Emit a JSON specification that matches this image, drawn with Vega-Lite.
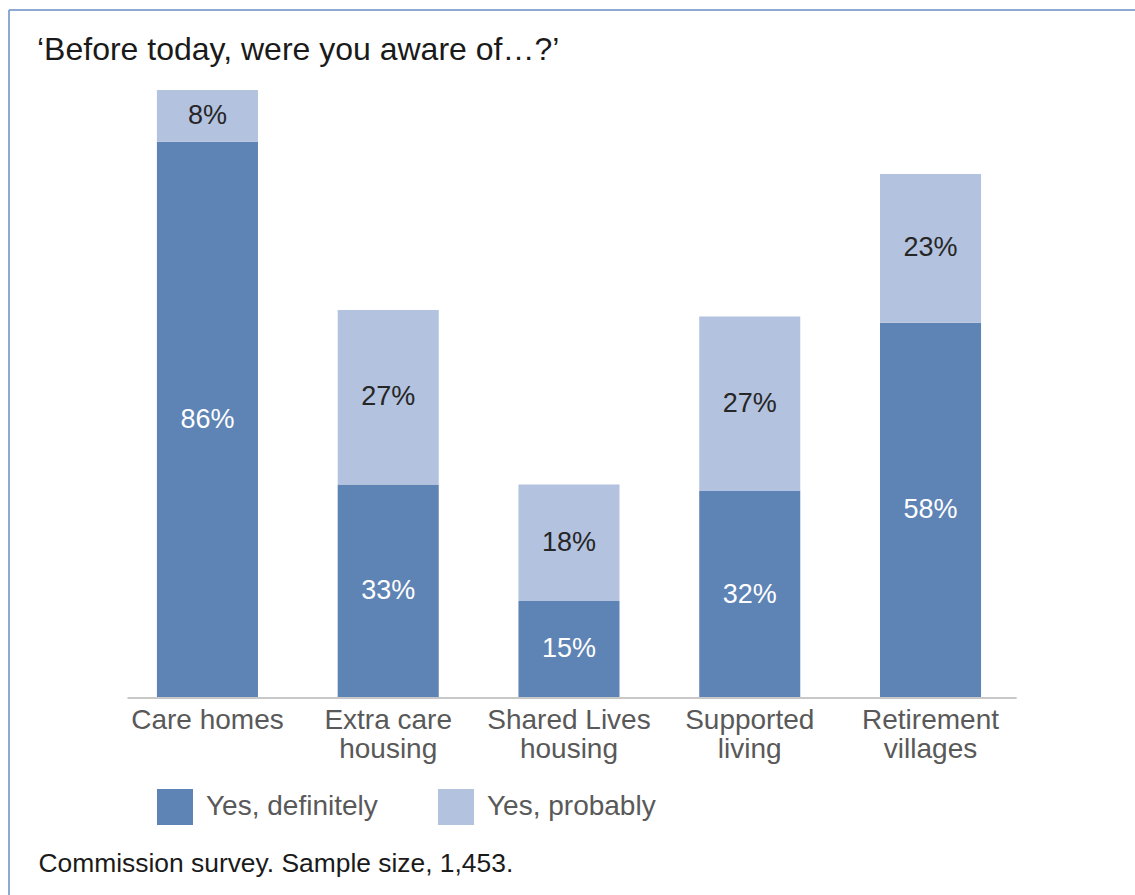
{
  "$schema": "https://vega.github.io/schema/vega-lite/v6.json",
  "width": 1126,
  "height": 885,
  "autosize": {"type": "none"},
  "padding": {"left": 9, "top": 10, "right": 0, "bottom": 0},
  "background": "white",
  "config": {
    "font": "Liberation Sans",
    "view": {"stroke": "#6a8ec6", "strokeWidth": 1.5, "strokeDash": [1126, 2011, 885, 0]},
    "axis": {"grid": false}
  },
  "title": {
    "text": "‘Before today, were you aware of…?’",
    "anchor": "start",
    "frame": "group",
    "dx": 28,
    "offset": -57,
    "fontSize": 32,
    "fontWeight": "normal",
    "color": "#1a1a1a",
    "font": "Liberation Sans"
  },
  "data": {
    "values": [
      {"category": "Care homes", "response": "Yes, definitely", "value": 0.86},
      {"category": "Care homes", "response": "Yes, probably", "value": 0.08},
      {"category": "Extra care housing", "response": "Yes, definitely", "value": 0.33},
      {"category": "Extra care housing", "response": "Yes, probably", "value": 0.27},
      {"category": "Shared Lives housing", "response": "Yes, definitely", "value": 0.15},
      {"category": "Shared Lives housing", "response": "Yes, probably", "value": 0.18},
      {"category": "Supported living", "response": "Yes, definitely", "value": 0.32},
      {"category": "Supported living", "response": "Yes, probably", "value": 0.27},
      {"category": "Retirement villages", "response": "Yes, definitely", "value": 0.58},
      {"category": "Retirement villages", "response": "Yes, probably", "value": 0.23}
    ]
  },
  "layer": [
    {
      "mark": {"type": "bar"},
      "encoding": {
        "x": {
          "field": "category",
          "type": "nominal",
          "sort": null,
          "scale": {"paddingInner": 0.441, "paddingOuter": 0.835, "align": 0.49},
          "axis": {
            "orient": "bottom",
            "offset": -197,
            "domain": false,
            "ticks": false,
            "labelAngle": 0,
            "labelFontSize": 28,
            "labelColor": "#595959",
            "labelPadding": 8,
            "labelLineHeight": 29,
            "labelLimit": 400,
            "labelExpr": "datum.label == 'Extra care housing' ? ['Extra care', 'housing'] : datum.label == 'Shared Lives housing' ? ['Shared Lives', 'housing'] : datum.label == 'Supported living' ? ['Supported', 'living'] : datum.label == 'Retirement villages' ? ['Retirement', 'villages'] : datum.label",
            "title": "Commission survey. Sample size, 1,453.",
            "titleX": 29,
            "titleY": 165,
            "titleAlign": "left",
            "titleBaseline": "middle",
            "titleFontSize": 26.4,
            "titleFontWeight": "normal",
            "titleColor": "#1a1a1a"
          }
        },
        "y": {
          "field": "value",
          "type": "quantitative",
          "stack": "zero",
          "scale": {"domain": [-0.3046, 1.0637], "nice": false, "zero": false},
          "axis": null
        },
        "color": {
          "field": "response",
          "type": "nominal",
          "scale": {"domain": ["Yes, definitely", "Yes, probably"], "range": ["#5e83b5", "#b3c2de"]},
          "legend": {
            "title": null,
            "orient": "none",
            "legendX": 148,
            "legendY": 779,
            "direction": "horizontal",
            "symbolType": "square",
            "symbolSize": 1296,
            "symbolStrokeWidth": 0,
            "symbolOpacity": 1,
            "labelFontSize": 28,
            "labelColor": "#595959",
            "labelOffset": 13,
            "columnPadding": 60,
            "labelLimit": 400,
            "padding": 0
          }
        },
        "order": {"field": "response", "sort": "ascending"}
      }
    },
    {
      "mark": {"type": "text", "fontSize": 27, "baseline": "middle", "align": "center"},
      "encoding": {
        "x": {"field": "category", "type": "nominal", "sort": null},
        "y": {"field": "value", "type": "quantitative", "stack": "zero", "bandPosition": 0.5},
        "detail": {"field": "response"},
        "order": {"field": "response", "sort": "ascending"},
        "text": {"field": "value", "type": "quantitative", "format": ".0%"},
        "color": {"condition": {"test": "datum.response === 'Yes, definitely'", "value": "#ffffff"}, "value": "#262626"}
      }
    },
    {
      "mark": {"type": "rule", "color": "#c8c8c8", "strokeWidth": 2},
      "encoding": {
        "x": {"datum": "Care homes", "bandPosition": -0.287},
        "x2": {"datum": "Retirement villages", "bandPosition": 1.347},
        "y": {"datum": 0}
      }
    }
  ]
}
